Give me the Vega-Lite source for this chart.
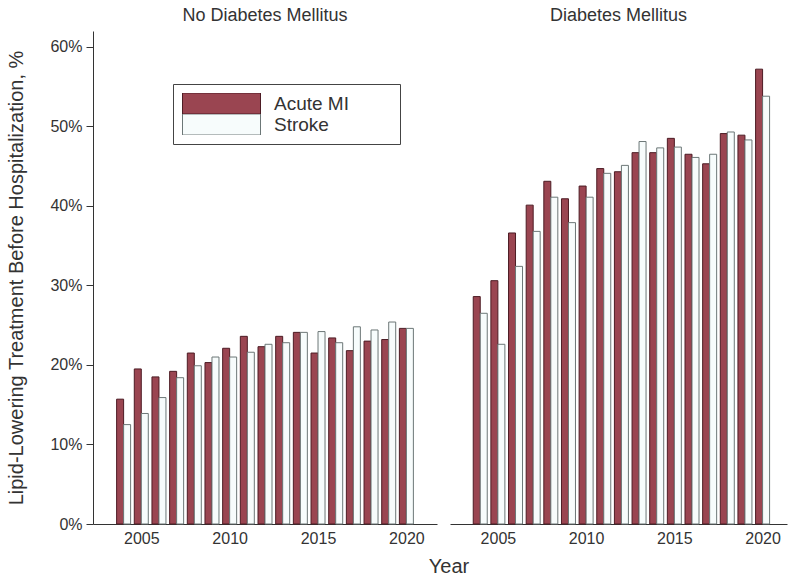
{
  "$schema": "https://vega.github.io/schema/vega-lite/v6.json",
  "padding": {"left": 6, "top": 7, "right": 4, "bottom": 5},
  "background": "white",
  "config": {
    "font": "Liberation Sans",
    "view": {"stroke": null},
    "axis": {"grid": false, "domainColor": "#333", "tickColor": "#333", "labelColor": "#333", "titleColor": "#333", "labelFont": "Liberation Sans", "titleFont": "Liberation Sans"},
    "title": {"fontWeight": "normal", "color": "#333", "font": "Liberation Sans"}
  },
  "title": {"text": "Year", "orient": "bottom", "anchor": "middle", "fontSize": 20, "offset": 11, "dx": 52},
  "datasets": {
    "d": [
      {"dm": "No Diabetes Mellitus", "year": 2004, "series": "Acute MI", "pct": 15.7},
      {"dm": "No Diabetes Mellitus", "year": 2004, "series": "Stroke", "pct": 12.5},
      {"dm": "No Diabetes Mellitus", "year": 2005, "series": "Acute MI", "pct": 19.5},
      {"dm": "No Diabetes Mellitus", "year": 2005, "series": "Stroke", "pct": 13.9},
      {"dm": "No Diabetes Mellitus", "year": 2006, "series": "Acute MI", "pct": 18.5},
      {"dm": "No Diabetes Mellitus", "year": 2006, "series": "Stroke", "pct": 15.9},
      {"dm": "No Diabetes Mellitus", "year": 2007, "series": "Acute MI", "pct": 19.2},
      {"dm": "No Diabetes Mellitus", "year": 2007, "series": "Stroke", "pct": 18.4},
      {"dm": "No Diabetes Mellitus", "year": 2008, "series": "Acute MI", "pct": 21.5},
      {"dm": "No Diabetes Mellitus", "year": 2008, "series": "Stroke", "pct": 19.9},
      {"dm": "No Diabetes Mellitus", "year": 2009, "series": "Acute MI", "pct": 20.3},
      {"dm": "No Diabetes Mellitus", "year": 2009, "series": "Stroke", "pct": 21.0},
      {"dm": "No Diabetes Mellitus", "year": 2010, "series": "Acute MI", "pct": 22.1},
      {"dm": "No Diabetes Mellitus", "year": 2010, "series": "Stroke", "pct": 21.0},
      {"dm": "No Diabetes Mellitus", "year": 2011, "series": "Acute MI", "pct": 23.6},
      {"dm": "No Diabetes Mellitus", "year": 2011, "series": "Stroke", "pct": 21.6},
      {"dm": "No Diabetes Mellitus", "year": 2012, "series": "Acute MI", "pct": 22.3},
      {"dm": "No Diabetes Mellitus", "year": 2012, "series": "Stroke", "pct": 22.6},
      {"dm": "No Diabetes Mellitus", "year": 2013, "series": "Acute MI", "pct": 23.6},
      {"dm": "No Diabetes Mellitus", "year": 2013, "series": "Stroke", "pct": 22.8},
      {"dm": "No Diabetes Mellitus", "year": 2014, "series": "Acute MI", "pct": 24.1},
      {"dm": "No Diabetes Mellitus", "year": 2014, "series": "Stroke", "pct": 24.1},
      {"dm": "No Diabetes Mellitus", "year": 2015, "series": "Acute MI", "pct": 21.5},
      {"dm": "No Diabetes Mellitus", "year": 2015, "series": "Stroke", "pct": 24.2},
      {"dm": "No Diabetes Mellitus", "year": 2016, "series": "Acute MI", "pct": 23.4},
      {"dm": "No Diabetes Mellitus", "year": 2016, "series": "Stroke", "pct": 22.8},
      {"dm": "No Diabetes Mellitus", "year": 2017, "series": "Acute MI", "pct": 21.8},
      {"dm": "No Diabetes Mellitus", "year": 2017, "series": "Stroke", "pct": 24.8},
      {"dm": "No Diabetes Mellitus", "year": 2018, "series": "Acute MI", "pct": 23.0},
      {"dm": "No Diabetes Mellitus", "year": 2018, "series": "Stroke", "pct": 24.4},
      {"dm": "No Diabetes Mellitus", "year": 2019, "series": "Acute MI", "pct": 23.2},
      {"dm": "No Diabetes Mellitus", "year": 2019, "series": "Stroke", "pct": 25.4},
      {"dm": "No Diabetes Mellitus", "year": 2020, "series": "Acute MI", "pct": 24.6},
      {"dm": "No Diabetes Mellitus", "year": 2020, "series": "Stroke", "pct": 24.6},
      {"dm": "Diabetes Mellitus", "year": 2004, "series": "Acute MI", "pct": 28.6},
      {"dm": "Diabetes Mellitus", "year": 2004, "series": "Stroke", "pct": 26.5},
      {"dm": "Diabetes Mellitus", "year": 2005, "series": "Acute MI", "pct": 30.6},
      {"dm": "Diabetes Mellitus", "year": 2005, "series": "Stroke", "pct": 22.6},
      {"dm": "Diabetes Mellitus", "year": 2006, "series": "Acute MI", "pct": 36.6},
      {"dm": "Diabetes Mellitus", "year": 2006, "series": "Stroke", "pct": 32.4},
      {"dm": "Diabetes Mellitus", "year": 2007, "series": "Acute MI", "pct": 40.1},
      {"dm": "Diabetes Mellitus", "year": 2007, "series": "Stroke", "pct": 36.8},
      {"dm": "Diabetes Mellitus", "year": 2008, "series": "Acute MI", "pct": 43.1},
      {"dm": "Diabetes Mellitus", "year": 2008, "series": "Stroke", "pct": 41.1},
      {"dm": "Diabetes Mellitus", "year": 2009, "series": "Acute MI", "pct": 40.9},
      {"dm": "Diabetes Mellitus", "year": 2009, "series": "Stroke", "pct": 37.9},
      {"dm": "Diabetes Mellitus", "year": 2010, "series": "Acute MI", "pct": 42.5},
      {"dm": "Diabetes Mellitus", "year": 2010, "series": "Stroke", "pct": 41.1},
      {"dm": "Diabetes Mellitus", "year": 2011, "series": "Acute MI", "pct": 44.7},
      {"dm": "Diabetes Mellitus", "year": 2011, "series": "Stroke", "pct": 44.1},
      {"dm": "Diabetes Mellitus", "year": 2012, "series": "Acute MI", "pct": 44.3},
      {"dm": "Diabetes Mellitus", "year": 2012, "series": "Stroke", "pct": 45.1},
      {"dm": "Diabetes Mellitus", "year": 2013, "series": "Acute MI", "pct": 46.7},
      {"dm": "Diabetes Mellitus", "year": 2013, "series": "Stroke", "pct": 48.1},
      {"dm": "Diabetes Mellitus", "year": 2014, "series": "Acute MI", "pct": 46.7},
      {"dm": "Diabetes Mellitus", "year": 2014, "series": "Stroke", "pct": 47.3},
      {"dm": "Diabetes Mellitus", "year": 2015, "series": "Acute MI", "pct": 48.5},
      {"dm": "Diabetes Mellitus", "year": 2015, "series": "Stroke", "pct": 47.4},
      {"dm": "Diabetes Mellitus", "year": 2016, "series": "Acute MI", "pct": 46.5},
      {"dm": "Diabetes Mellitus", "year": 2016, "series": "Stroke", "pct": 46.1},
      {"dm": "Diabetes Mellitus", "year": 2017, "series": "Acute MI", "pct": 45.3},
      {"dm": "Diabetes Mellitus", "year": 2017, "series": "Stroke", "pct": 46.5},
      {"dm": "Diabetes Mellitus", "year": 2018, "series": "Acute MI", "pct": 49.1},
      {"dm": "Diabetes Mellitus", "year": 2018, "series": "Stroke", "pct": 49.3},
      {"dm": "Diabetes Mellitus", "year": 2019, "series": "Acute MI", "pct": 48.9},
      {"dm": "Diabetes Mellitus", "year": 2019, "series": "Stroke", "pct": 48.3},
      {"dm": "Diabetes Mellitus", "year": 2020, "series": "Acute MI", "pct": 57.2},
      {"dm": "Diabetes Mellitus", "year": 2020, "series": "Stroke", "pct": 53.8}
    ]
  },
  "data": {"name": "d"},
  "spacing": 13,
  "resolve": {"scale": {"y": "shared"}},
  "hconcat": [
    {
      "title": {"text": "No Diabetes Mellitus", "fontSize": 18, "offset": 6},
      "width": 344,
      "height": 493,
      "transform": [{"filter": "datum.dm == 'No Diabetes Mellitus'"}],
      "encoding": {
        "x": {"field": "year", "type": "quantitative", "scale": {"domain": [2002.55, 2021.45], "nice": false, "zero": false},
              "axis": {"title": null, "values": [2005, 2010, 2015, 2020], "format": "d", "ticks": false, "labelFontSize": 16, "labelPadding": 6}},
        "y": {"field": "pct", "type": "quantitative", "scale": {"domain": [0, 62], "nice": false},
              "axis": {"title": "Lipid-Lowering Treatment Before Hospitalization, %", "titleFontSize": 20, "titleFontWeight": "normal", "titlePadding": 23, "values": [0, 10, 20, 30, 40, 50, 60], "labelExpr": "datum.value + '%'", "tickSize": 7, "labelPadding": 4, "labelFontSize": 16}},
        "fill": {"field": "series", "type": "nominal", "scale": {"domain": ["Acute MI", "Stroke"], "range": ["#9a4551", "#f7fcfc"]},
                 "legend": {"orient": "none", "legendX": 80, "legendY": 53, "title": null, "symbolType": "M-1,-0.27H1V0.27H-1Z", "symbolSize": 6084, "clipHeight": 21, "rowPadding": 0, "labelFontSize": 19, "labelColor": "#333", "strokeColor": "#444", "padding": 9, "labelOffset": 13, "symbolStrokeWidth": 1, "labelExpr": "datum.label + '\u2800\u2800\u2800'"}},
        "stroke": {"field": "series", "type": "nominal", "scale": {"domain": ["Acute MI", "Stroke"], "range": ["#4d1c24", "#6c7777"]}}
      },
      "layer": [
        {"transform": [{"filter": "datum.series == 'Acute MI'"}], "mark": {"type": "bar", "width": 7, "xOffset": -3.5, "strokeWidth": 1}},
        {"transform": [{"filter": "datum.series == 'Stroke'"}], "mark": {"type": "bar", "width": 7, "xOffset": 3.5, "strokeWidth": 1}}
      ]
    },
    {
      "title": {"text": "Diabetes Mellitus", "fontSize": 18, "offset": 6},
      "width": 337,
      "height": 493,
      "transform": [{"filter": "datum.dm == 'Diabetes Mellitus'"}],
      "encoding": {
        "x": {"field": "year", "type": "quantitative", "scale": {"domain": [2002.57, 2021.1], "nice": false, "zero": false},
              "axis": {"title": null, "values": [2005, 2010, 2015, 2020], "format": "d", "ticks": false, "labelFontSize": 16, "labelPadding": 6}},
        "y": {"field": "pct", "type": "quantitative", "scale": {"domain": [0, 62], "nice": false}, "axis": null},
        "fill": {"field": "series", "type": "nominal", "scale": {"domain": ["Acute MI", "Stroke"], "range": ["#9a4551", "#f7fcfc"]}},
        "stroke": {"field": "series", "type": "nominal", "scale": {"domain": ["Acute MI", "Stroke"], "range": ["#4d1c24", "#6c7777"]}}
      },
      "layer": [
        {"transform": [{"filter": "datum.series == 'Acute MI'"}], "mark": {"type": "bar", "width": 7, "xOffset": -3.5, "strokeWidth": 1}},
        {"transform": [{"filter": "datum.series == 'Stroke'"}], "mark": {"type": "bar", "width": 7, "xOffset": 3.5, "strokeWidth": 1}}
      ]
    }
  ]
}
